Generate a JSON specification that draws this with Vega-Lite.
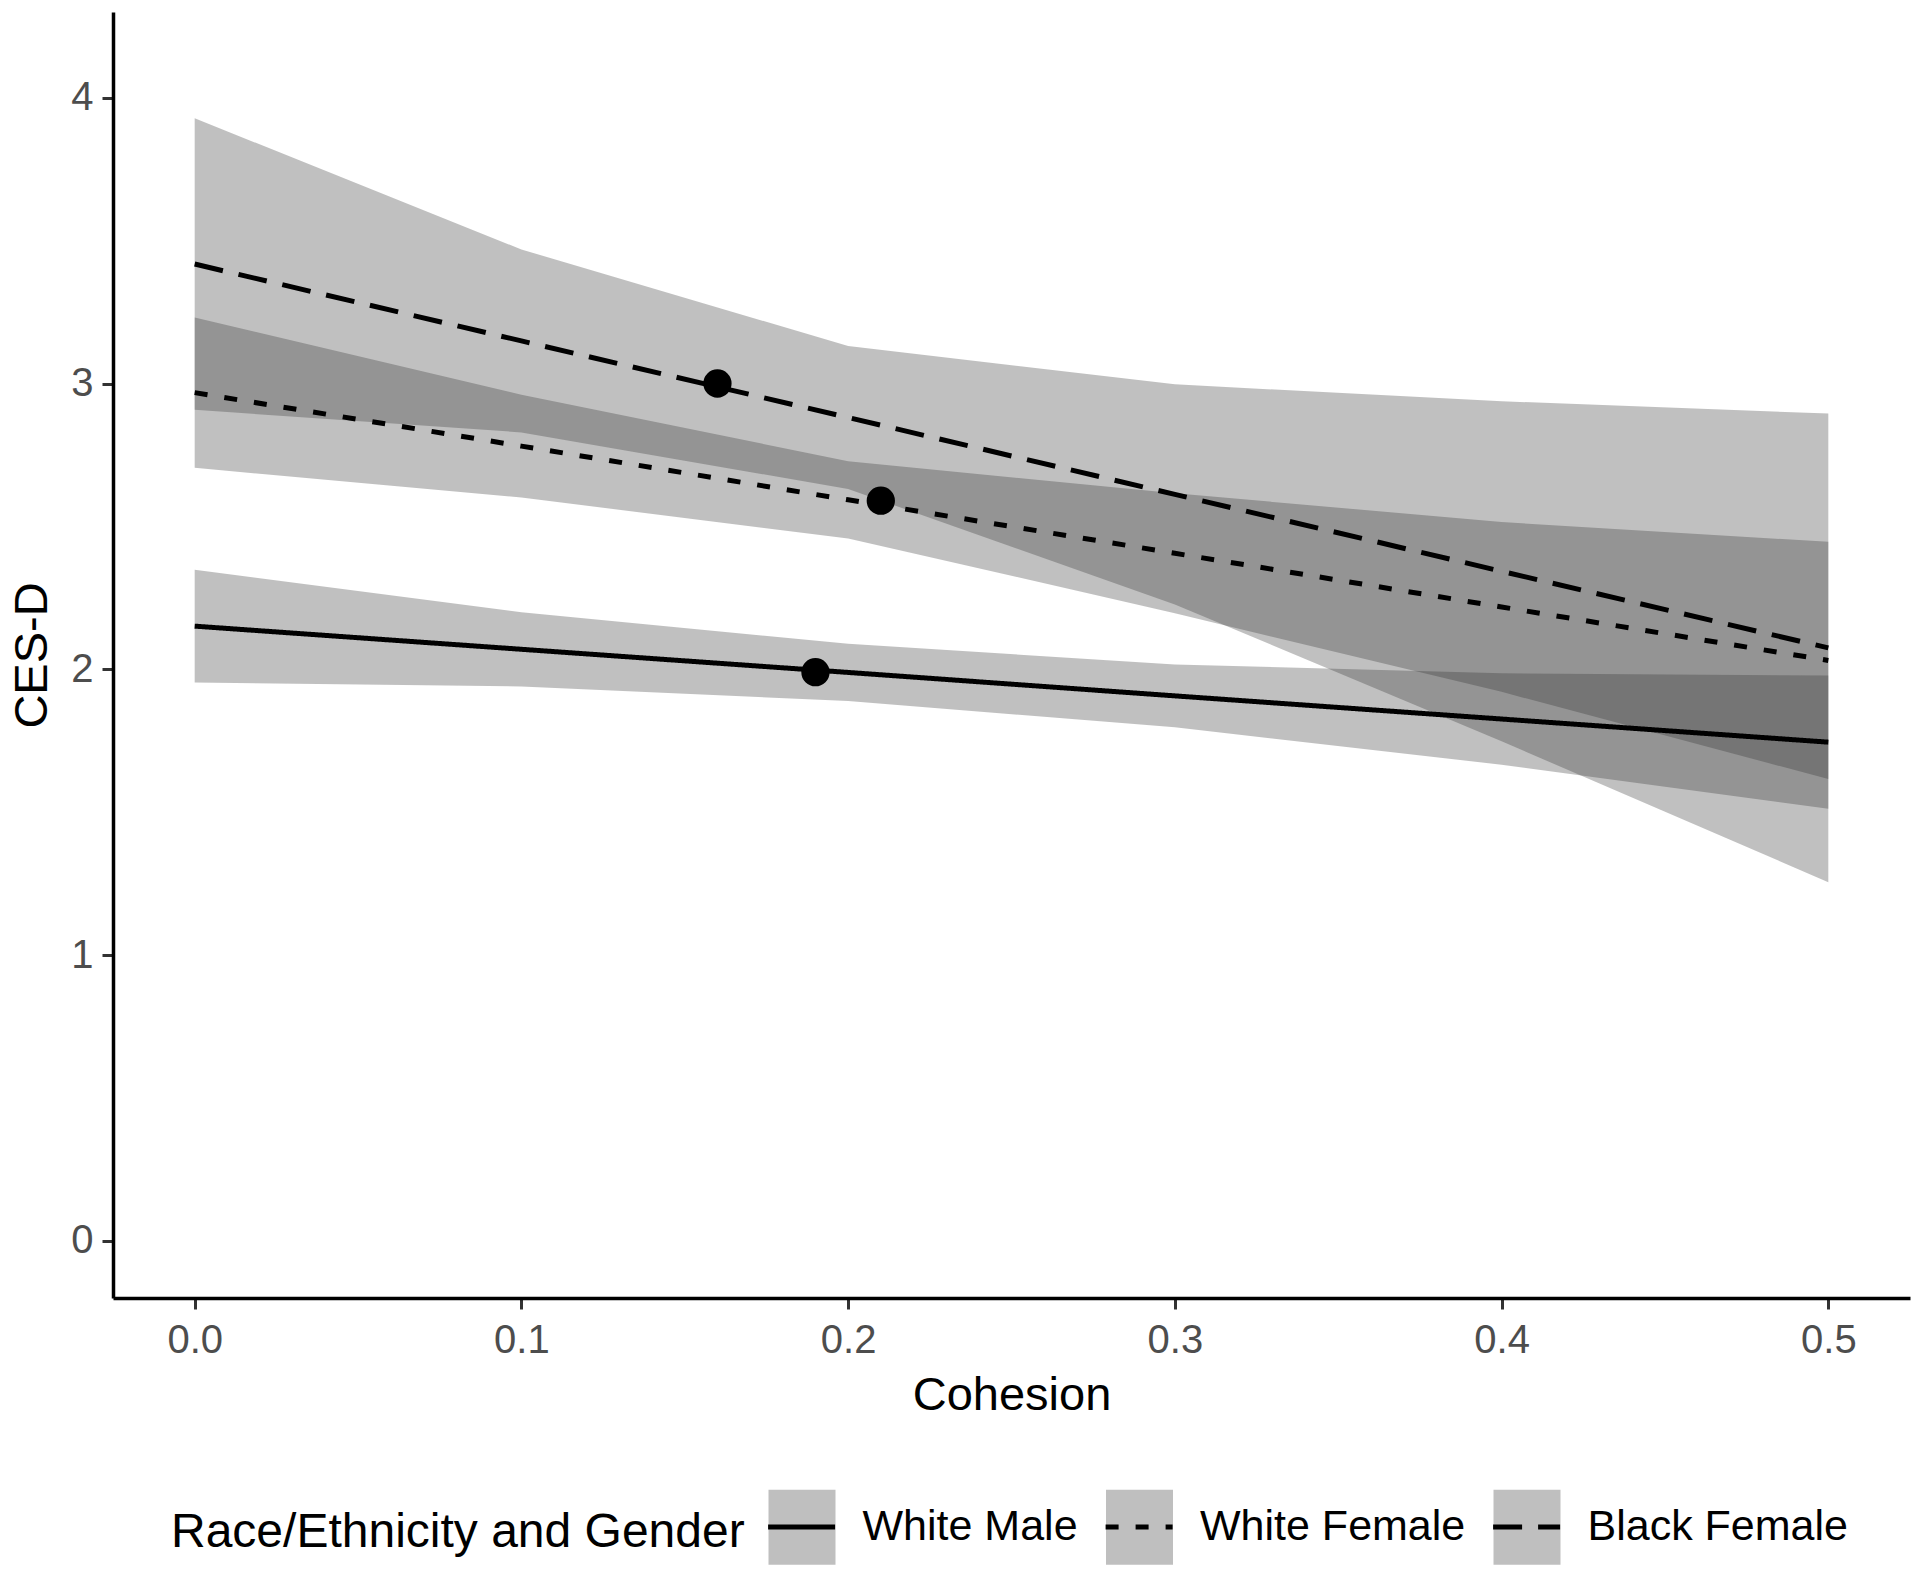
{
  "$schema": "https://vega.github.io/schema/vega-lite/v6.json",
  "width": 1797,
  "height": 1286,
  "autosize": {"type": "none"},
  "padding": {"left": 113, "top": 12, "right": 10, "bottom": 276},
  "background": "white",
  "datasets": {
    "fit": [
      {"group": "White Male", "x": 0.0, "fit": 2.151, "lo": 1.954, "hi": 2.348},
      {"group": "White Male", "x": 0.1, "fit": 2.070, "lo": 1.940, "hi": 2.200},
      {"group": "White Male", "x": 0.2, "fit": 1.989, "lo": 1.889, "hi": 2.089},
      {"group": "White Male", "x": 0.3, "fit": 1.907, "lo": 1.797, "hi": 2.017},
      {"group": "White Male", "x": 0.4, "fit": 1.826, "lo": 1.666, "hi": 1.986},
      {"group": "White Male", "x": 0.5, "fit": 1.745, "lo": 1.512, "hi": 1.978},
      {"group": "White Female", "x": 0.0, "fit": 2.968, "lo": 2.705, "hi": 3.231},
      {"group": "White Female", "x": 0.1, "fit": 2.781, "lo": 2.601, "hi": 2.961},
      {"group": "White Female", "x": 0.2, "fit": 2.593, "lo": 2.458, "hi": 2.728},
      {"group": "White Female", "x": 0.3, "fit": 2.406, "lo": 2.196, "hi": 2.616},
      {"group": "White Female", "x": 0.4, "fit": 2.218, "lo": 1.921, "hi": 2.515},
      {"group": "White Female", "x": 0.5, "fit": 2.031, "lo": 1.616, "hi": 2.446},
      {"group": "Black Female", "x": 0.0, "fit": 3.418, "lo": 2.908, "hi": 3.928},
      {"group": "Black Female", "x": 0.1, "fit": 3.149, "lo": 2.829, "hi": 3.469},
      {"group": "Black Female", "x": 0.2, "fit": 2.881, "lo": 2.631, "hi": 3.131},
      {"group": "Black Female", "x": 0.3, "fit": 2.612, "lo": 2.227, "hi": 2.997},
      {"group": "Black Female", "x": 0.4, "fit": 2.343, "lo": 1.748, "hi": 2.938},
      {"group": "Black Female", "x": 0.5, "fit": 2.075, "lo": 1.255, "hi": 2.895}
    ],
    "pts": [
      {"group": "White Male", "x": 0.19, "fit": 1.99},
      {"group": "White Female", "x": 0.21, "fit": 2.59},
      {"group": "Black Female", "x": 0.16, "fit": 3.0}
    ]
  },
  "encoding": {
    "x": {
      "field": "x",
      "type": "quantitative",
      "title": "Cohesion",
      "scale": {"domain": [-0.025, 0.525], "nice": false, "zero": false},
      "axis": {"values": [0, 0.1, 0.2, 0.3, 0.4, 0.5], "format": ".1f", "labelPadding": 11, "titlePadding": 12}
    }
  },
  "layer": [
    {
      "data": {"name": "fit"},
      "mark": {"type": "area", "opacity": 0.3},
      "encoding": {
        "y": {
          "field": "lo",
          "type": "quantitative",
          "title": "CES-D",
          "scale": {"domain": [-0.2, 4.3], "nice": false, "zero": false},
          "axis": {"values": [0, 1, 2, 3, 4], "format": "d", "labelPadding": 9, "titlePadding": 14}
        },
        "y2": {"field": "hi"},
        "fill": {
          "field": "group",
          "type": "nominal",
          "scale": {"domain": ["White Male", "White Female", "Black Female"], "range": ["#303030", "#303030", "#303030"]},
          "legend": {
            "orient": "none",
            "legendX": 58,
            "legendY": 1479,
            "direction": "horizontal",
            "title": "Race/Ethnicity and Gender",
            "titleOrient": "left",
            "titleAnchor": "middle",
            "titleBaseline": "middle",
            "titleColor": "black",
            "symbolType": "M-1,-1.12H1V1.12H-1Z",
            "symbolSize": 4489,
            "symbolOpacity": 0.3,
            "symbolStrokeColor": "transparent",
            "symbolStrokeWidth": 5,
            "labelColor": "black"
          }
        }
      }
    },
    {
      "data": {"name": "fit"},
      "mark": {"type": "line", "color": "black", "strokeWidth": 5},
      "encoding": {
        "y": {"field": "fit", "type": "quantitative", "title": "CES-D"},
        "strokeDash": {
          "field": "group",
          "type": "nominal",
          "sort": ["White Male", "White Female", "Black Female"],
          "scale": {"range": [[1, 0], [13, 17], [29, 16]]},
          "legend": {
            "orient": "none",
            "legendX": 652.6,
            "legendY": 1479,
            "direction": "horizontal",
            "title": null,
            "symbolType": "M-1,0H1",
            "symbolSize": 4489,
            "symbolStrokeColor": "black",
            "symbolFillColor": "transparent",
            "symbolStrokeWidth": 5,
            "symbolOpacity": 1,
            "labelColor": "transparent"
          }
        }
      }
    },
    {
      "data": {"name": "pts"},
      "mark": {"type": "circle", "size": 800, "color": "black", "opacity": 1},
      "encoding": {
        "y": {"field": "fit", "type": "quantitative", "title": "CES-D"}
      }
    }
  ],
  "config": {
    "font": "Liberation Sans",
    "view": {"stroke": null},
    "axis": {
      "grid": false,
      "domainColor": "black",
      "domainWidth": 3.5,
      "tickColor": "#333333",
      "tickWidth": 3,
      "tickSize": 11,
      "labelFont": "Liberation Sans",
      "labelFontSize": 40,
      "labelColor": "#4d4d4d",
      "titleFont": "Liberation Sans",
      "titleFontSize": 47,
      "titleFontWeight": "normal",
      "titleColor": "black"
    },
    "legend": {
      "padding": 0,
      "titleFont": "Liberation Sans",
      "titleFontSize": 48,
      "titleFontWeight": "normal",
      "titlePadding": 21,
      "titleLimit": 1000,
      "labelFont": "Liberation Sans",
      "labelFontSize": 43,
      "labelLimit": 1000,
      "labelOffset": 24.5,
      "columnPadding": 17.5,
      "symbolOffset": 0
    }
  }
}
